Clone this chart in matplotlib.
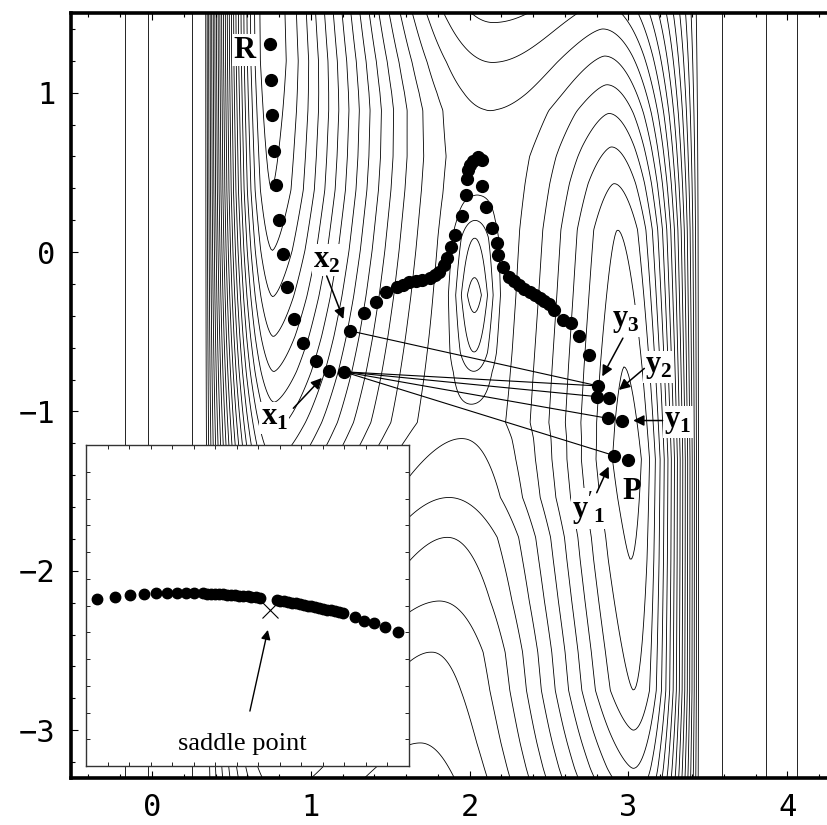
import numpy as np
import matplotlib.pyplot as plt

plt.rcParams['mathtext.fontset'] = 'custom'
plt.rcParams['mathtext.rm'] = 'Liberation Serif'
plt.rcParams['mathtext.bf'] = 'Liberation Serif:bold'

# --- energy surface, described by the valley floors and the ridge crest ---
# R valley floor (y -> level)
r_y = [-3.3, -2.5, -2.0, -1.5, -1.0, -0.75, -0.53, -0.28, 0.01, 0.39, 1.2, 1.5]
r_v = [19.5, 16.0, 13.0, 10.0, 7.3, 6.0, 5.0, 4.0, 3.0, 2.0, 1.17, 1.17]
xr_y = [-3.3, -1.0, 1.5]
xr_v = [0.80, 0.77, 0.74]
# central ridge crest with its two saddles
h_y = [-3.3, -3.08, -2.51, -2.19, -1.79, -1.54, -1.17, -1.07, 0.6, 0.89, 1.19, 1.44, 1.5]
h_v = [21.4, 21.0, 20.0, 19.0, 18.0, 17.0, 16.0, 15.7, 15.7, 16.0, 17.0, 18.0, 18.25]
xh_y = [-3.3, -3.08, -2.51, -2.19, -1.79, -1.54, -1.17, -0.27, 0.6, 1.0, 1.5]
xh_v = [1.67, 1.69, 1.76, 1.81, 1.86, 1.87, 1.95, 2.03, 2.10, 2.14, 2.15]
# hill sitting on the ridge between the saddles
hill_y = [-1.07, -0.96, -0.75, -0.63, -0.38, -0.27, -0.16, 0.09, 0.2, 0.36, 0.6]
hill_v = [0.0, 0.3, 1.3, 2.3, 3.3, 3.8, 3.3, 2.3, 1.3, 0.3, 0.0]
hill_x, hill_w = 2.03, 0.085
# P valley floor
p_y = [-3.3, -3.24, -3.0, -2.75, -1.93, -1.3, -0.72, 0.14, 0.43, 0.66, 0.87, 1.05, 1.23, 1.40, 1.5]
p_v = [12.3, 12.0, 11.0, 10.0, 9.0, 8.4, 9.0, 10.0, 11.0, 12.0, 13.0, 14.0, 15.0, 16.0, 16.6]
xp_y = [-3.3, -2.75, -1.3, 0.14, 1.5]
xp_v = [3.03, 3.03, 3.00, 2.93, 2.83]
wall_left, wall_right = 0.33, 3.45
top_left, top_right = 26.95, 26.75
levels = np.arange(2, 30)

# --- reaction path images ---
path_x = [0.746, 0.752, 0.756, 0.769, 0.782, 0.802, 0.822, 0.852, 0.892, 0.951, 1.034, 1.117, 1.207,
          1.245, 1.333, 1.412, 1.476, 1.54, 1.58, 1.62, 1.66, 1.70, 1.75, 1.78, 1.81, 1.84, 1.86,
          1.88, 1.91, 1.95, 1.975, 1.983, 1.99, 2.00, 2.02, 2.05, 2.08,
          2.08, 2.10, 2.14, 2.17, 2.18, 2.21, 2.25, 2.28, 2.31, 2.345, 2.38, 2.41, 2.44, 2.47,
          2.50, 2.53, 2.59, 2.64, 2.69, 2.75, 2.81, 2.80, 2.88, 2.87, 2.96, 2.91, 3.00]
path_y = [1.305, 1.077, 0.859, 0.634, 0.419, 0.204, -0.011, -0.222, -0.421, -0.573, -0.685, -0.745, -0.751,
          -0.494, -0.381, -0.312, -0.249, -0.217, -0.205, -0.19, -0.182, -0.175, -0.16, -0.145, -0.123, -0.08, -0.04,
          0.03, 0.107, 0.226, 0.357, 0.456, 0.514, 0.545, 0.57, 0.595, 0.58,
          0.416, 0.284, 0.152, 0.054, -0.019, -0.092, -0.155, -0.18, -0.207, -0.23, -0.249, -0.27, -0.29, -0.31,
          -0.326, -0.364, -0.426, -0.447, -0.527, -0.646, -0.84, -0.907, -0.917, -1.043, -1.058, -1.277, -1.307]

link_x0 = [1.245, 1.207, 1.207, 1.207, 1.207]
link_y0 = [-0.494, -0.751, -0.751, -0.751, -0.751]
link_x1 = [2.81, 2.81, 2.80, 2.87, 2.91]
link_y1 = [-0.84, -0.84, -0.907, -1.043, -1.277]

# labels: text, position, arrow tail, arrow head
labels = [r'$\mathbf{x}_\mathbf{2}$', r'$\mathbf{x}_\mathbf{1}$', r'$\mathbf{y}_\mathbf{3}$',
          r'$\mathbf{y}_\mathbf{2}$', r'$\mathbf{y}_\mathbf{1}$', r"$\mathbf{y}'_\mathbf{1}$"]
label_x = [1.10, 0.77, 2.98, 3.19, 3.31, 2.75]
label_y = [-0.05, -1.04, -0.43, -0.72, -1.065, -1.61]
tail_x = [1.10, 0.89, 2.965, 3.10, 3.215, 2.80]
tail_y = [-0.15, -0.98, -0.54, -0.73, -1.057, -1.51]
head_x = [1.205, 1.07, 2.835, 2.94, 3.03, 2.875]
head_y = [-0.42, -0.79, -0.78, -0.865, -1.057, -1.346]

# inset: close-up of the path near the saddle (inset units)
ins_x = [0.035, 0.090, 0.136, 0.180, 0.217, 0.252, 0.281, 0.309, 0.334, 0.363, 0.375, 0.388, 0.400,
         0.412, 0.425, 0.437, 0.450, 0.462, 0.475, 0.487, 0.500, 0.512, 0.525, 0.539,
         0.590, 0.602, 0.614, 0.626, 0.638, 0.650, 0.662, 0.674, 0.686, 0.698, 0.710, 0.722,
         0.734, 0.746, 0.758, 0.770, 0.784, 0.797, 0.833, 0.861, 0.892, 0.926, 0.967]
ins_y = [0.519, 0.527, 0.533, 0.536, 0.538, 0.540, 0.540, 0.540, 0.539, 0.538, 0.537, 0.537, 0.536,
         0.536, 0.535, 0.534, 0.533, 0.532, 0.531, 0.530, 0.529, 0.527, 0.526, 0.524,
         0.517, 0.515, 0.513, 0.511, 0.509, 0.507, 0.505, 0.503, 0.500, 0.498, 0.496, 0.493,
         0.490, 0.487, 0.485, 0.482, 0.479, 0.476, 0.463, 0.453, 0.445, 0.432, 0.418]
saddle = (0.570, 0.486)


def ramp(t):
    # gentle at the valley floor, flat at the ridge crest
    return (1 - (1 - t) ** 2) ** 1.5


x = np.linspace(-0.51, 4.25, 500)
y = np.linspace(-3.3, 1.5, 500)
X, Y = np.meshgrid(x, y)
R = np.interp(Y, r_y, r_v)
XR = np.interp(Y, xr_y, xr_v)
H = np.interp(Y, h_y, h_v)
XH = np.interp(Y, xh_y, xh_v)
P = np.interp(Y, p_y, p_v)
XP = np.interp(Y, xp_y, xp_v)

V = np.zeros_like(X)
m = X < wall_left
V[m] = top_left + 8.3 * (wall_left - X[m]) ** 2
m = (X >= wall_left) & (X < XR)
t = (XR[m] - X[m]) / (XR[m] - wall_left)
V[m] = R[m] + (top_left - R[m]) * t ** 1.8
m = (X >= XR) & (X < XH)
t = (X[m] - XR[m]) / (XH[m] - XR[m])
V[m] = R[m] + (H[m] - R[m]) * ramp(t)
m = (X >= XH) & (X < XP)
t = (XP[m] - X[m]) / (XP[m] - XH[m])
V[m] = P[m] + (H[m] - P[m]) * ramp(t)
m = (X >= XP) & (X < wall_right)
t = (X[m] - XP[m]) / (wall_right - XP[m])
V[m] = P[m] + (top_right - P[m]) * t ** 2
m = X >= wall_right
V[m] = top_right + 4.7 * (X[m] - wall_right) ** 1.5
V += np.interp(Y, hill_y, hill_v) * np.exp(-(X - hill_x) ** 2 / (2 * hill_w ** 2))

fig = plt.figure(figsize=(8.27, 8.25), dpi=100)
ax = fig.add_axes([71 / 827, 47 / 825, 756 / 827, 765 / 825])
ax.contour(X, Y, V, levels=levels, colors='black', linewidths=0.6)

for a, b, c, d in zip(link_x0, link_y0, link_x1, link_y1):
    ax.plot([a, c], [b, d], color='black', lw=0.8, zorder=3)
ax.plot(path_x, path_y, 'o', color='black', ms=8.5, zorder=4)

ax.text(0.58, 1.265, 'R', fontfamily='Liberation Serif', fontweight='bold', fontsize=22,
        ha='center', va='center', zorder=6,
        bbox=dict(facecolor='white', edgecolor='none', pad=1))
ax.text(3.02, -1.50, 'P', fontfamily='Liberation Serif', fontweight='bold', fontsize=22,
        ha='center', va='center', zorder=6)
for s, lx, ly, tx, ty, hx, hy in zip(labels, label_x, label_y, tail_x, tail_y, head_x, head_y):
    ax.text(lx, ly, s, fontsize=22, ha='center', va='center', zorder=6,
            bbox=dict(facecolor='white', edgecolor='none', pad=1))
    ax.annotate('', xy=(hx, hy), xytext=(tx, ty), zorder=6,
                arrowprops=dict(arrowstyle='-|>', color='black', lw=1.1,
                                mutation_scale=16, shrinkA=0, shrinkB=0))

ax.set_xlim(-0.51, 4.25)
ax.set_ylim(-3.3, 1.5)
ax.set_xticks([0, 1, 2, 3, 4])
ax.set_xticklabels(['0', '1', '2', '3', '4'])
ax.set_yticks([-3, -2, -1, 0, 1])
ax.set_yticklabels(['\u22123', '\u22122', '\u22121', '0', '1'])
ax.set_xticks(np.arange(-0.4, 4.25, 0.2), minor=True)
ax.set_yticks(np.arange(-3.2, 1.5, 0.2), minor=True)
ax.tick_params(which='both', direction='in', top=True, right=False, width=0.8)
ax.tick_params(which='major', length=5, pad=11, labelsize=22)
ax.tick_params(which='minor', length=3)
for lab in ax.get_xticklabels() + ax.get_yticklabels():
    lab.set_fontfamily('DejaVu Sans Mono')
for side in ['left', 'bottom', 'top']:
    ax.spines[side].set_linewidth(2.6)
ax.spines['right'].set_visible(False)

# inset
ins = fig.add_axes([86 / 827, 59 / 825, 323 / 827, 321 / 825])
ins.set_facecolor('white')
ins.set_zorder(10)
ins.plot(ins_x, ins_y, 'o', color='black', ms=7.5)
ins.plot(*saddle, marker='x', color='black', ms=12, mew=0.8)
ins.annotate('saddle point', xy=(0.563, 0.424), xytext=(0.485, 0.069),
             fontsize=19, fontfamily='Liberation Serif', ha='center', va='center',
             arrowprops=dict(arrowstyle='-|>', color='black', lw=1.0,
                             mutation_scale=14, shrinkA=14, shrinkB=0))
ins.set_xlim(0, 1)
ins.set_ylim(0, 1)
ins.set_xticks(np.linspace(0, 1, 16))
ins.set_yticks(np.linspace(0, 1, 13))
ins.tick_params(direction='in', length=3, width=0.6, top=True, right=True,
                labelbottom=False, labelleft=False)
for sp in ins.spines.values():
    sp.set_linewidth(1.0)
    sp.set_color('#333333')

fig.savefig('out.png', dpi=100)
